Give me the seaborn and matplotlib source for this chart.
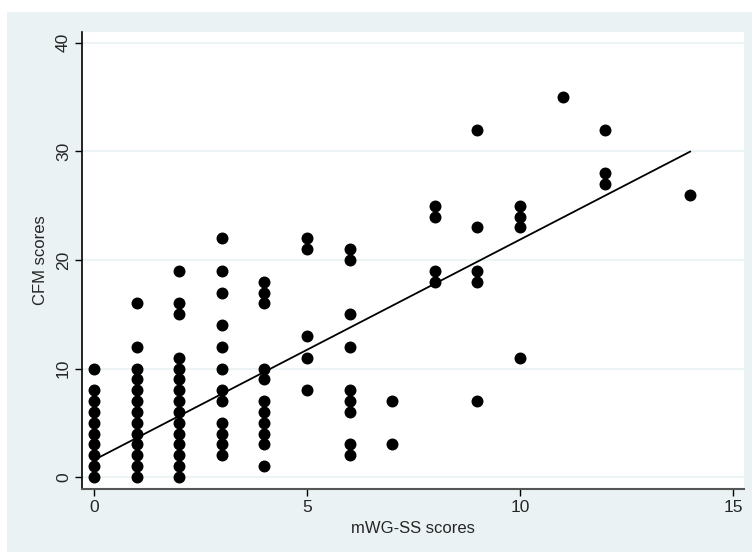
import matplotlib
matplotlib.use("Agg")
import matplotlib.pyplot as plt
from matplotlib.patches import Rectangle
import numpy as np
import pandas as pd
import seaborn as sns

# CFM scores observed at each mWG-SS score
mwg_levels = [0, 1, 2, 3, 4, 5, 6, 7, 8, 9, 10, 11, 12, 14]
cfm_by_level = [
    [10, 8, 7, 6, 5, 4, 3, 2, 1, 0],
    [16, 12, 10, 9, 8, 7, 6, 5, 4, 3, 2, 1, 0],
    [19, 16, 15, 11, 10, 9, 8, 7, 6, 5, 4, 3, 2, 1, 0],
    [22, 19, 17, 14, 12, 10, 8, 7, 5, 4, 3, 2],
    [18, 17, 16, 10, 9, 7, 6, 5, 4, 3, 1],
    [22, 21, 13, 11, 8],
    [21, 20, 15, 12, 8, 7, 6, 3, 2],
    [7, 3],
    [25, 24, 19, 18],
    [32, 23, 19, 18, 7],
    [25, 24, 23, 11],
    [35],
    [32, 28, 27],
    [26],
]

# fitted line as read off the chart (overlapping points hide some observations,
# so a refit on the visible points would not reproduce it)
fit_intercept = 1.57
fit_slope = 2.03

x_ticks = [0, 5, 10, 15]
y_ticks = [0, 10, 20, 30, 40]

rows = []
for lvl, vals in zip(mwg_levels, cfm_by_level):
    for v in vals:
        rows.append({"mwg": lvl, "cfm": v})
df = pd.DataFrame(rows)

fit_x = np.array([df["mwg"].min(), df["mwg"].max()])
fit_df = pd.DataFrame({"mwg": fit_x, "cfm": fit_intercept + fit_slope * fit_x})

sns.set_style("white")
plt.rcParams["font.family"] = ["Liberation Sans", "DejaVu Sans"]

bg = "#EAF2F3"
fig = plt.figure(figsize=(7.52, 5.59), dpi=100)
fig.patch.set_facecolor("white")
W, H = 752, 559
fig.patches.append(Rectangle((7 / W, 1 - 552 / H), (752 - 7) / W, (552 - 12) / H,
                             transform=fig.transFigure, facecolor=bg, edgecolor="none", zorder=-10))

ax = fig.add_axes([82 / W, 1 - 489 / H, (744 - 82) / W, (489 - 32) / H])
ax.set_zorder(1)
ax.set_facecolor("white")

for t in y_ticks:
    ax.axhline(t, color=bg, lw=1.2, zorder=0)

sns.scatterplot(data=df, x="mwg", y="cfm", ax=ax, s=74, color="black",
                linewidth=0, zorder=3)
sns.lineplot(data=fit_df, x="mwg", y="cfm", ax=ax, color="black", lw=1.3, zorder=4)

ax.set_xlim(-0.28, 15.26)
ax.set_ylim(-1.1, 41.0)
ax.set_xticks(x_ticks)
ax.set_yticks(y_ticks)
ax.set_xticklabels([str(t) for t in x_ticks], fontsize=12.5)
ax.set_yticklabels([str(t) for t in y_ticks], fontsize=12.5, rotation=90, va="center")
ax.set_xlabel("mWG-SS scores", fontsize=12, labelpad=4)
ax.set_ylabel("CFM scores", fontsize=12, labelpad=6)

for s in ["top", "right"]:
    ax.spines[s].set_visible(False)
ax.spines["left"].set_color("black")
ax.spines["bottom"].set_color("#555555")
ax.spines["left"].set_linewidth(1.2)
ax.spines["bottom"].set_linewidth(1.5)
ax.tick_params(axis="both", direction="out", length=5, width=1, color="black",
               bottom=True, left=True, pad=3)

fig.savefig("out.png", dpi=100, facecolor=fig.get_facecolor())
